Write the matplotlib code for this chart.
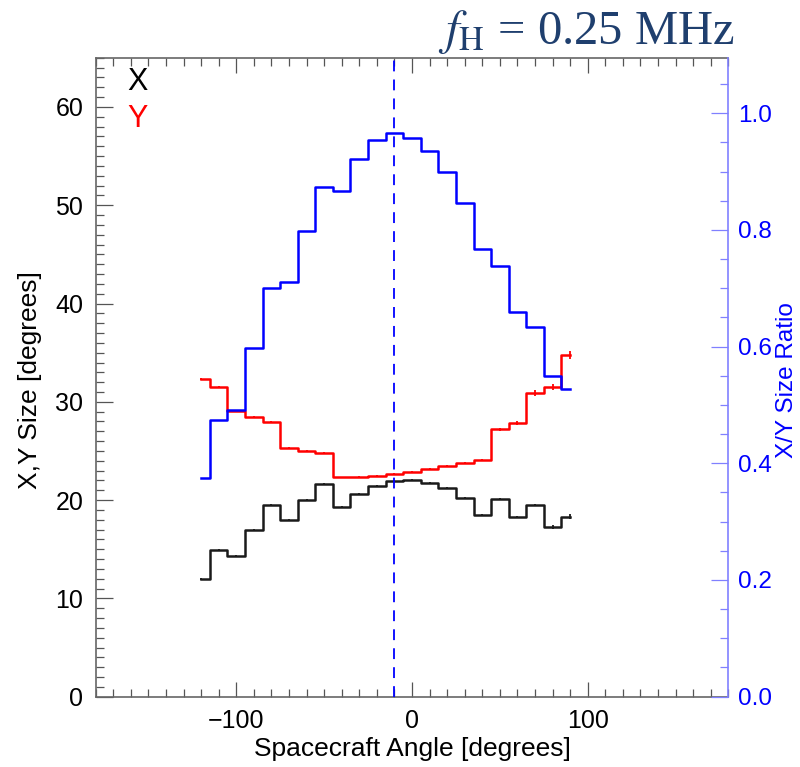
import numpy as np
import matplotlib
matplotlib.use("Agg")
import matplotlib.pyplot as plt
from matplotlib.ticker import MultipleLocator

plt.rcParams['font.family'] = ['Liberation Sans', 'DejaVu Sans']
plt.rcParams['mathtext.fontset'] = 'stix'

# spacecraft angle bins (deg)
angle = [-120, -110, -100, -90, -80, -70, -60, -50, -40, -30, -20,
         -10, 0, 10, 20, 30, 40, 50, 60, 70, 80, 90]
# X size (deg), black
x_size = [12.0, 14.9, 14.3, 17.0, 19.5, 18.0, 20.0, 21.6, 19.3, 20.6, 21.4,
          21.9, 22.0, 21.7, 21.2, 20.2, 18.5, 20.1, 18.3, 19.5, 17.3, 18.3]
x_err = [0.1, 0.1, 0.1, 0.1, 0.1, 0.1, 0.1, 0.1, 0.1, 0.1, 0.1,
         0.1, 0.1, 0.1, 0.1, 0.1, 0.1, 0.1, 0.1, 0.15, 0.2, 0.25]
# Y size (deg), red
y_size = [32.3, 31.5, 29.1, 28.5, 27.9, 25.3, 25.0, 24.8, 22.3, 22.4, 22.5,
          22.7, 22.9, 23.2, 23.5, 23.8, 24.1, 27.2, 27.8, 30.9, 31.5, 34.8]
y_err = [0.1, 0.1, 0.1, 0.1, 0.1, 0.1, 0.1, 0.1, 0.1, 0.1, 0.1,
         0.1, 0.1, 0.1, 0.1, 0.1, 0.1, 0.15, 0.2, 0.3, 0.3, 0.4]
# X/Y size ratio, blue
ratio = [0.374, 0.474, 0.491, 0.597, 0.701, 0.710, 0.798, 0.874, 0.867, 0.922, 0.954,
         0.966, 0.958, 0.935, 0.900, 0.846, 0.767, 0.738, 0.659, 0.633, 0.550, 0.527]
peak_angle = -10

fig = plt.figure(figsize=(8, 7.67), dpi=100)
ax = fig.add_axes([0.1196, 0.0917, 0.7908, 0.8329])
ax2 = ax.twinx()

# size curves
ax.step(angle, x_size, where='mid', color='#1a1a1a', lw=1.8)
ax.errorbar(angle, x_size, yerr=x_err, fmt='none', ecolor='#1a1a1a', elinewidth=1.3)
ax.step(angle, y_size, where='mid', color='#ff0000', lw=1.8)
ax.errorbar(angle, y_size, yerr=y_err, fmt='none', ecolor='#ff0000', elinewidth=1.3)

# ratio curve
ax2.step(angle, ratio, where='mid', color='#0000ff', lw=1.8)
ax2.axvline(peak_angle, color='#0000ff', lw=1.3, ls=(0, (6, 4.5)))

ax.set_xlim(-180, 180)
ax.set_ylim(0, 65)
ax2.set_ylim(0, 1.095)

ax.xaxis.set_major_locator(MultipleLocator(100))
ax.xaxis.set_minor_locator(MultipleLocator(10))
ax.yaxis.set_major_locator(MultipleLocator(10))
ax.yaxis.set_minor_locator(MultipleLocator(1))
ax2.yaxis.set_major_locator(MultipleLocator(0.2))
ax2.yaxis.set_minor_locator(MultipleLocator(0.05))
ax2.yaxis.set_major_formatter(plt.FormatStrFormatter('%.1f'))

ax.tick_params(axis='x', which='both', direction='in', top=True, bottom=True,
               labelsize=18, pad=9, color='#555555')
ax.tick_params(axis='x', which='major', length=11, width=0.9)
ax.tick_params(axis='x', which='minor', length=6, width=0.9)
ax.tick_params(axis='y', which='both', direction='in', left=True, right=False,
               labelsize=18, pad=9, color='#555555')
ax.tick_params(axis='y', which='major', length=12, width=0.9)
ax.tick_params(axis='y', which='minor', length=6, width=0.9)
ax2.tick_params(axis='y', which='both', direction='in', colors='#0000ff',
                labelsize=17.5, pad=7)
ax2.tick_params(axis='y', which='major', length=12, width=0.9, color='#8080ff')
ax2.tick_params(axis='y', which='minor', length=6, width=0.9, color='#8080ff')

for s in ['left', 'bottom', 'top']:
    ax.spines[s].set_color('#666666')
    ax.spines[s].set_linewidth(1.2)
ax.spines['right'].set_visible(False)
for s in ['left', 'bottom', 'top']:
    ax2.spines[s].set_visible(False)
ax2.spines['right'].set_color('#8080ff')
ax2.spines['right'].set_linewidth(1.2)

ax.set_xlabel('Spacecraft Angle [degrees]', fontsize=19, labelpad=3)
fig.text(30 / 800, 1 - 380 / 767, 'X,Y Size [degrees]', fontsize=19,
         rotation=90, ha='center', va='center')
fig.text(787 / 800, 1 - 380 / 767, 'X/Y Size Ratio', fontsize=17.5,
         color='#0000ff', rotation=90, ha='center', va='center')

ax.text(0.05, 0.962, 'X', transform=ax.transAxes, fontsize=22, color='black',
        ha='left', va='center')
ax.text(0.05, 0.905, 'Y', transform=ax.transAxes, fontsize=22, color='#ff0000',
        ha='left', va='center')

fig.text(0.919, 0.943, r'$f_{\mathrm{H}}$ = 0.25 MHz', fontsize=35,
         color='#1f3f6e', ha='right', va='baseline', family='Liberation Serif')

fig.savefig('out.png', dpi=100)
